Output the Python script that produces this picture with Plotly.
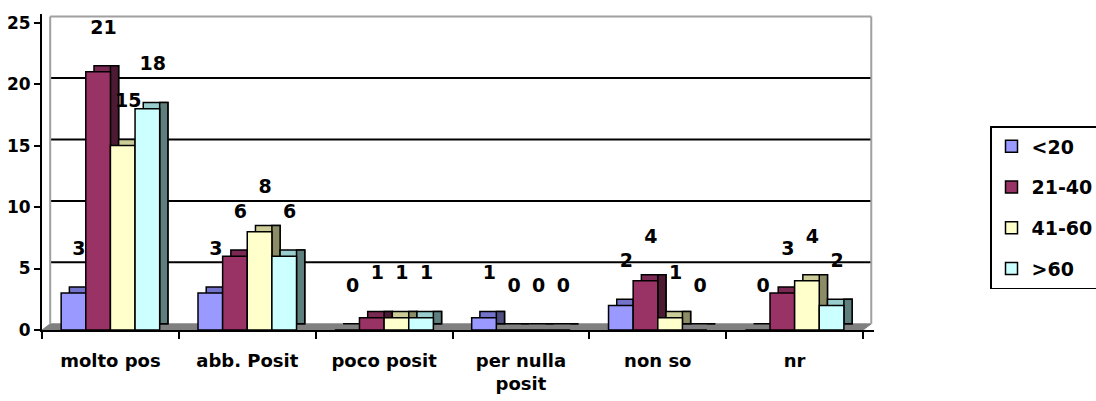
import plotly.graph_objects as go

categories = ["molto pos", "abb. Posit", "poco posit", "per nulla<br>posit", "non so", "nr"]
series_names = ["<20", "21-40", "41-60", ">60"]
lt20 = [3, 3, 0, 1, 2, 0]
s21_40 = [21, 6, 1, 0, 4, 3]
s41_60 = [15, 8, 1, 0, 1, 4]
gt60 = [18, 6, 1, 0, 0, 2]
y_ticks = [0, 5, 10, 15, 20, 25]

series_values = [lt20, s21_40, s41_60, gt60]
face_colors = ["#9999FF", "#993366", "#FFFFCC", "#CCFFFF"]
top_colors = ["#7373CC", "#7A2952", "#CCCC99", "#99CCCC"]
side_colors = ["#4D4D80", "#4D1A33", "#8C8C66", "#5F7F7F"]

bar_w = 0.18          # width of one bar in category units
dx, dy = 0.06, 0.5    # pseudo-3D depth shift (x units, y units)
FONT = "DejaVu Sans, Arial, sans-serif"
EDGE = dict(color="black", width=1.5)


def esc(s):
    return s.replace("<br>", "\n").replace("<", "&lt;").replace(">", "&gt;").replace("\n", "</b><br><b>")


x_idx = list(range(len(categories)))
fig = go.Figure()

for k, (name, vals) in enumerate(zip(series_names, series_values)):
    off = -2 * bar_w + k * bar_w
    # top face (shifted back by the depth)
    fig.add_trace(go.Bar(
        x=x_idx, y=vals, base=dy, offset=off + dx, width=bar_w,
        marker=dict(color=top_colors[k], line=EDGE),
        showlegend=False, hoverinfo="skip",
    ))
    # right side face
    fig.add_trace(go.Bar(
        x=x_idx, y=vals, base=dy, offset=off + bar_w, width=dx,
        marker=dict(color=side_colors[k], line=EDGE),
        showlegend=False, hoverinfo="skip",
    ))
    # front face
    fig.add_trace(go.Bar(
        x=x_idx, y=vals, offset=off, width=bar_w,
        name="<b>" + esc(name) + "</b>", legendgroup=name,
        marker=dict(color=face_colors[k], line=EDGE),
    ))

# value labels above each bar
for k, vals in enumerate(series_values):
    center = -2 * bar_w + k * bar_w + bar_w / 2
    fig.add_trace(go.Scatter(
        x=[i + center + 0.04 for i in x_idx], y=[v + 3.5 for v in vals],
        mode="text", text=["<b>" + str(v) + "</b>" for v in vals],
        textfont=dict(family=FONT, size=19, color="black"),
        showlegend=False, hoverinfo="skip", cliponaxis=False,
    ))

x0, x1 = -0.5, len(categories) - 0.5
shapes = []
# floor
shapes.append(dict(type="path", xref="x", yref="y", layer="below",
                   path=f"M {x0},0 L {x0+dx},{dy} L {x1+dx},{dy} L {x1},0 Z",
                   fillcolor="#808080", line=dict(color="#808080", width=1)))
# back-wall gridlines
for t in y_ticks[1:-1]:
    shapes.append(dict(type="line", xref="x", yref="y", layer="below",
                       x0=x0 + dx, x1=x1 + dx, y0=t + dy, y1=t + dy,
                       line=dict(color="black", width=2)))
# back-wall frame
top = y_ticks[-1] + dy
for (ax0, ax1, ay0, ay1) in [(x0 + dx, x1 + dx, top, top),
                             (x0 + dx, x0 + dx, dy, top),
                             (x1 + dx, x1 + dx, dy, top)]:
    shapes.append(dict(type="line", xref="x", yref="y", layer="below",
                       x0=ax0, x1=ax1, y0=ay0, y1=ay1,
                       line=dict(color="#A0A0A0", width=2)))

fig.update_layout(
    width=1096, height=401,
    margin=dict(l=42, r=222, t=14, b=71, autoexpand=False),
    paper_bgcolor="white", plot_bgcolor="white",
    barmode="overlay",
    shapes=shapes,
    showlegend=True,
    legend=dict(
        x=(990 - 42) / 832, y=(330 - 126) / 316, xanchor="left", yanchor="top",
        bordercolor="black", borderwidth=1.5, bgcolor="white",
        font=dict(family=FONT, size=19, color="black"),
        tracegroupgap=13, itemwidth=30,
    ),
    xaxis=dict(
        range=[x0, x1 + 0.08], tickvals=x_idx,
        ticktext=["<b>" + esc(c) + "</b>" for c in categories],
        ticks="", showgrid=False, zeroline=False, automargin=False,
        showline=True, linecolor="black", linewidth=2,
        tickfont=dict(family=FONT, size=18, color="black"),
        ticklabelstandoff=13,
        minor=dict(tickvals=[i - 0.5 for i in range(len(categories) + 1)],
                   ticks="outside", ticklen=7, tickcolor="black", tickwidth=2,
                   showgrid=False),
    ),
    yaxis=dict(
        range=[0, 25.7], tickvals=y_ticks,
        ticktext=["<b>" + str(t) + "</b>" for t in y_ticks],
        showgrid=False, zeroline=False, automargin=False,
        showline=True, linecolor="black", linewidth=2,
        ticks="outside", ticklen=6, tickcolor="black", tickwidth=2,
        tickfont=dict(family=FONT, size=17, color="black"),
    ),
)

fig.write_html("out.html")
